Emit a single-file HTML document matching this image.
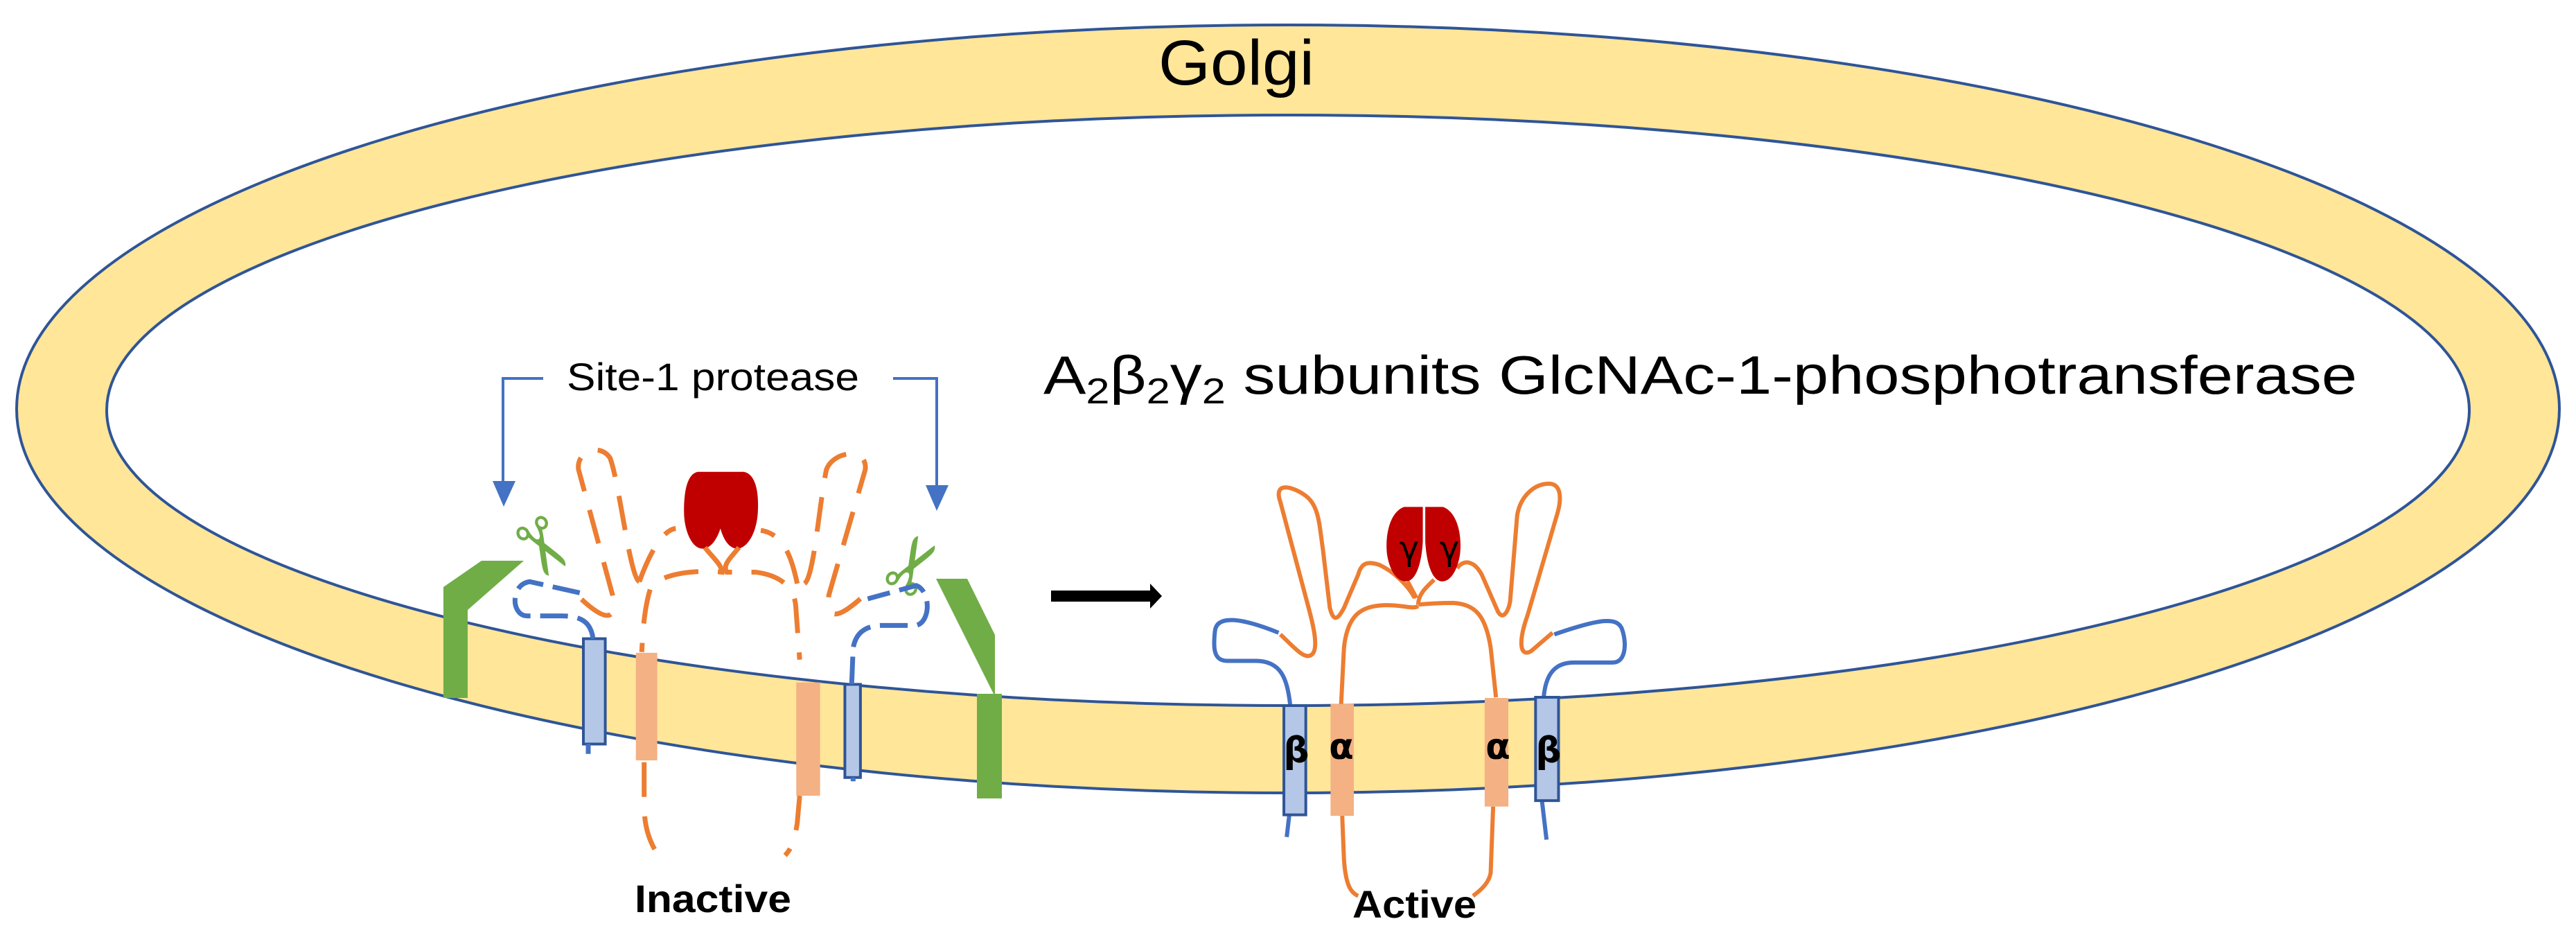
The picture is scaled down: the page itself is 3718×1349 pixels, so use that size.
<!DOCTYPE html>
<html><head><meta charset="utf-8"><style>html,body{margin:0;padding:0;background:#fff}svg{display:block}</style></head>
<body>
<svg width="3718" height="1349" viewBox="0 0 3718 1349" xmlns="http://www.w3.org/2000/svg">
<path fill-rule="evenodd" fill="#FFE699" stroke="#2F5597" stroke-width="4" d="M24,590 A1835,554 0 1,0 3694,590 A1835,554 0 1,0 24,590 Z M154,592 A1705,426 0 1,1 3564,592 A1705,426 0 1,1 154,592 Z"/>
<text x="1672" y="122" font-family="Liberation Sans, sans-serif" font-size="92" textLength="225" lengthAdjust="spacingAndGlyphs">Golgi</text>
<text x="1506" y="568" font-family="Liberation Sans, sans-serif" font-size="78" textLength="1896" lengthAdjust="spacingAndGlyphs">A<tspan font-size="52" dy="14">2</tspan><tspan dy="-14">β</tspan><tspan font-size="52" dy="14">2</tspan><tspan dy="-14">γ</tspan><tspan font-size="52" dy="14">2</tspan><tspan dy="-14"> subunits GlcNAc-1-phosphotransferase</tspan></text>
<text x="818" y="563" font-family="Liberation Sans, sans-serif" font-size="56" textLength="422" lengthAdjust="spacingAndGlyphs">Site-1 protease</text>
<g stroke="#4472C4" stroke-width="4" fill="none"><path d="M784,546 H726 V700"/><path d="M1289,546 H1352 V705"/></g>
<polygon fill="#4472C4" points="711,694 744,694 727,731"/><polygon fill="#4472C4" points="1336,700 1369,700 1352,737"/>
<polygon fill="#70AD47" points="640,1007 640,847 695,809 756,809 675,880 675,1007"/>
<polygon fill="#70AD47" points="1351,835 1396,835 1436,916 1436,1001 1434,1001"/>
<rect x="1410" y="1001" width="36" height="151" fill="#70AD47"/>
<text x="740" y="835" font-size="110" fill="#70AD47" font-family="DejaVu Sans, sans-serif" transform="rotate(60 790 790)">✂</text>
<text x="1268" y="850" font-size="110" fill="#70AD47" font-family="DejaVu Sans, sans-serif" transform="rotate(-60 1320 810)">✂</text>
<g transform="translate(600,480) scale(0.7015,0.5485)">
<rect x="345" y="805" width="45" height="277" fill="#B4C7E7" stroke="#2F5597" stroke-width="4" vector-effect="non-scaling-stroke"/>
<rect x="883" y="925" width="32" height="245" fill="#B4C7E7" stroke="#2F5597" stroke-width="4" vector-effect="non-scaling-stroke"/>
<rect x="453" y="842" width="44" height="283" fill="#F4B183"/>
<rect x="783" y="920" width="49" height="298" fill="#F4B183"/>
<path fill="#C00000" d="M580,366 L675,366 C700,372 706,420 704,470 C702,530 680,570 660,568 C640,566 630,530 627,515 C622,535 610,568 590,568 C568,568 552,520 552,470 C552,410 560,372 580,366 Z"/>
<g fill="none" stroke="#ED7D31" stroke-width="7" stroke-dasharray="50,28">
<path vector-effect="non-scaling-stroke" d="M460,655 C440,640 420,400 400,330 C380,290 330,310 335,360 L405,690 C415,760 390,760 340,700"/>
<path vector-effect="non-scaling-stroke" d="M800,660 C820,640 830,450 845,360 C860,310 930,300 925,360 L850,690 C845,760 870,750 915,700"/>
<path vector-effect="non-scaling-stroke" d="M460,655 C470,620 500,520 535,515"/>
<path vector-effect="non-scaling-stroke" d="M785,660 C775,600 760,530 710,520"/>
<path vector-effect="non-scaling-stroke" d="M595,565 C610,590 630,610 630,630 C600,625 520,625 485,665 C470,720 468,780 465,840"/>
<path vector-effect="non-scaling-stroke" d="M665,565 C650,590 630,610 640,630 L700,630 C760,640 780,680 782,720 L790,860"/>
<path vector-effect="non-scaling-stroke" d="M470,1130 L470,1240 C470,1300 480,1350 515,1400"/>
<path vector-effect="non-scaling-stroke" d="M790,1218 L785,1290 C780,1330 775,1355 760,1375"/>
</g>
<g fill="none" stroke="#4472C4" stroke-width="7" stroke-dasharray="40,14">
<path vector-effect="non-scaling-stroke" d="M365,805 C360,760 340,745 300,745 L230,745 C195,745 195,660 235,655 L340,685"/>
<path vector-effect="non-scaling-stroke" d="M897,925 L900,830 C905,790 925,770 960,770 L1030,770 C1060,760 1060,680 1030,665 L930,700"/>
<path vector-effect="non-scaling-stroke" d="M355,1082 L355,1108"/>
<path vector-effect="non-scaling-stroke" d="M900,1170 L900,1180"/>
</g>
</g>
<text x="916" y="1316" font-family="Liberation Sans, sans-serif" font-weight="bold" font-size="56" textLength="226" lengthAdjust="spacingAndGlyphs">Inactive</text>
<polygon fill="#000" points="1517,852 1660,852 1660,842 1677,860 1660,878 1660,868 1517,868"/>
<g transform="translate(1700,600) scale(0.5102,0.4777)">
<g fill="none" stroke="#ED7D31" stroke-width="6">
<path vector-effect="non-scaling-stroke" d="M290,660 C330,700 360,740 380,720 C400,700 380,620 370,580 L290,260 C270,200 320,210 360,240 C400,270 400,330 410,400 L430,580 C440,620 450,620 470,580 L510,480 C520,440 540,440 570,450 C610,470 650,510 670,550"/>
<path vector-effect="non-scaling-stroke" d="M650,500 L675,550"/>
<path vector-effect="non-scaling-stroke" d="M680,575 C660,585 640,570 580,572 C520,575 480,600 470,700 L462,870"/>
<path vector-effect="non-scaling-stroke" d="M680,570 C700,568 730,565 780,565 C840,570 870,600 885,700 L900,850"/>
<path vector-effect="non-scaling-stroke" d="M680,570 C680,540 700,520 725,495"/>
<path vector-effect="non-scaling-stroke" d="M790,460 C810,430 840,440 860,480 L905,590 C920,620 935,590 940,560 L960,300 C970,240 1010,205 1050,205 C1085,205 1085,250 1075,290 L990,600 C960,690 970,730 1000,710 L1060,655"/>
<path vector-effect="non-scaling-stroke" d="M465,1208 L470,1340 C475,1420 490,1440 510,1450"/>
<path vector-effect="non-scaling-stroke" d="M892,1180 L885,1380 C880,1410 860,1430 835,1450"/>
</g>
<g fill="none" stroke="#4472C4" stroke-width="6">
<path vector-effect="non-scaling-stroke" d="M318,875 C310,790 290,740 220,740 L140,740 C100,740 100,700 105,650 C110,600 180,610 285,655"/>
<path vector-effect="non-scaling-stroke" d="M1035,850 C1040,790 1060,745 1120,745 L1230,745 C1270,745 1270,680 1255,640 C1240,610 1200,610 1065,660"/>
<path vector-effect="non-scaling-stroke" d="M315,1208 L308,1272"/>
<path vector-effect="non-scaling-stroke" d="M1030,1162 L1043,1280"/>
</g>
<rect x="300" y="875" width="62" height="330" fill="#B4C7E7" stroke="#2F5597" stroke-width="4" vector-effect="non-scaling-stroke"/>
<rect x="1012" y="850" width="65" height="312" fill="#B4C7E7" stroke="#2F5597" stroke-width="4" vector-effect="non-scaling-stroke"/>
<rect x="432" y="870" width="66" height="338" fill="#F4B183"/>
<rect x="868" y="852" width="67" height="328" fill="#F4B183"/>
<path fill="#C00000" d="M693,275 L640,275 C600,290 585,360 592,420 C600,470 620,500 645,500 C675,500 690,440 693,380 Z"/>
<path fill="#C00000" d="M700,275 L750,275 C790,290 805,360 798,420 C790,470 770,500 748,500 C718,500 703,440 700,380 Z"/>
</g>
<g font-family="DejaVu Sans, sans-serif" font-weight="bold" font-size="52" text-anchor="middle">
<text x="1871" y="1100">β</text><text x="1936" y="1095">α</text><text x="2162" y="1095">α</text><text x="2235" y="1100">β</text>
</g>
<g font-family="DejaVu Sans, sans-serif" font-size="48" text-anchor="middle"><text x="2034" y="808">γ</text><text x="2092" y="808">γ</text></g>
<text x="1952" y="1324" font-family="Liberation Sans, sans-serif" font-weight="bold" font-size="56" textLength="179" lengthAdjust="spacingAndGlyphs">Active</text>
</svg>
</body></html>
